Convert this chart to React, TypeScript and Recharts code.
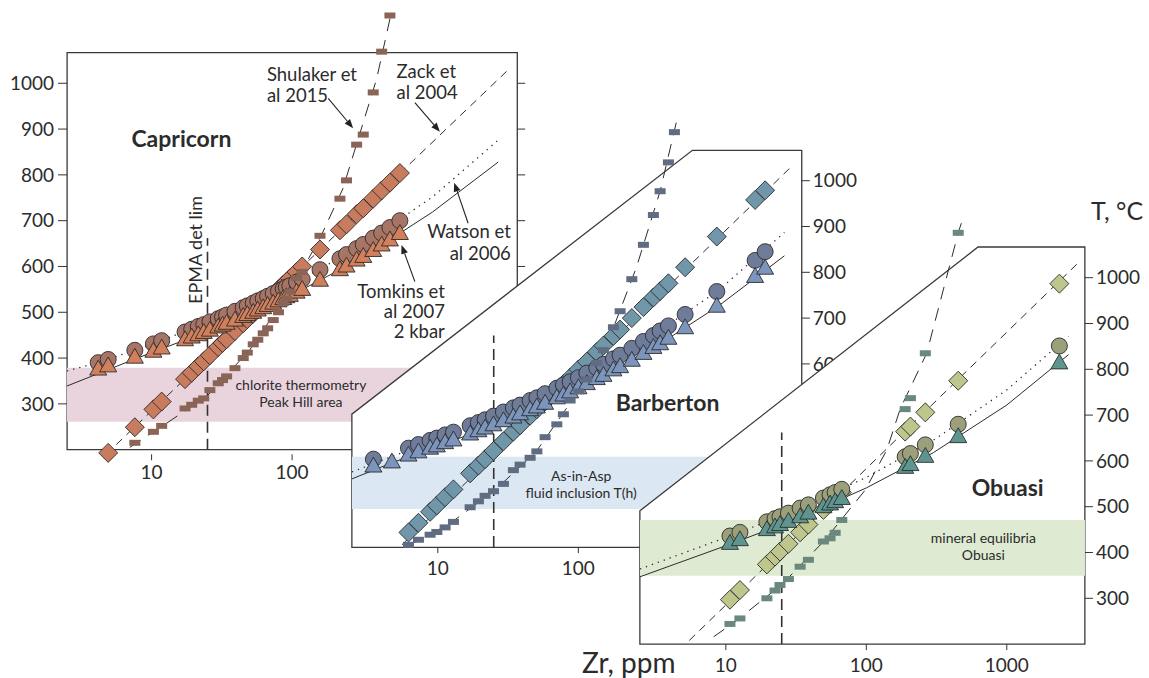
import React from 'react'
import {
  ComposedChart,
  Scatter,
  XAxis,
  YAxis,
  ReferenceArea,
  ReferenceLine,
  ReferenceDot,
} from 'recharts'

// Capricorn: Zr (ppm) of each analysis and its temperature (°C) by each thermometer
const capZr = [4.17, 4.91, 7.6, 10.3, 11.8, 17.3, 19.3, 21.5, 23.5, 26, 29.8, 32, 34.2, 39.2, 44.9, 48, 52.9, 57, 62.3, 67, 73.4, 80, 86.5, 91, 96.4, 107.6, 118, 158, 219, 244, 288, 321, 378, 434, 497, 585]
const capZack = [null, 193, 249, 288, 305, 354, 368, 382, 393, 406, 424, 433, 441, 459, 476, 485, 497, 507, 518, 527, 539, 550, 560, 566, 574, 588, 600, 637, 679, 692, 714, 727, 748, 766, 783, 804]
const capWatson = [390, 397, 417, 431, 438, 457, 463, 469, 473, 479, 486, 490, 494, 502, 510, 514, 520, 525, 530, 535, 541, 546, 551, 555, 558, 566, 572, 593, 617, 626, 639, 648, 662, 673, 685, 700]
const capTomkins = [374, 381, 400, 413, 420, 438, 444, 449, 454, 459, 466, 470, 474, 481, 489, 493, 498, 503, 508, 513, 518, 523, 528, 532, 535, 542, 548, 568, 591, 599, 612, 620, 633, 645, 656, 670]
const capShulaker = [null, null, 215, 239, 252, 290, 298, 307, 312, 330, 345, 352, 360, 378, 400, 412, 430, 440, 454, 465, 483, 500, 520, 530, 545, 575, 588, 667, 748, 788, 866, 888, 980, 1069, 1148, null]

// Barberton
const barZr = [3.48, 4.71, 6.18, 7.28, 8.81, 9.84, 11.27, 12.92, 16.98, 19.45, 21.7, 24.9, 29.3, 34.5, 38.5, 45.4, 50.7, 58, 70.3, 78.3, 87.4, 100.2, 115, 135.4, 150.9, 177.8, 198.4, 240.3, 290.6, 342.3, 382.2, 437.8, 483, 575.6, 967.8, 1813, 2136]
const barZack = [null, null, 232, 253, 277, 291, 309, 326, 361, 378, 392, 410, 431, 452, 466, 487, 501, 518, 542, 556, 570, 588, 605, 626, 640, 661, 675, 700, 724, 745, 759, 776, null, 811, 878, 958, 979]
const barWatson = [392, null, 416, 424, 433, 438, 445, 451, 465, 472, 478, 486, 495, 504, 510, 520, 526, 535, 547, 554, 561, 570, 580, 591, 599, 611, 619, 634, 649, 662, 672, 683, null, 708, 758, 826, 845]
const barTomkins = [375, 384, 399, 406, 414, 419, 426, 432, 445, 452, 458, 465, 474, 482, 489, 498, 504, 512, 524, 530, 537, 546, 555, 566, 573, 585, 592, 606, 621, 634, 642, 654, null, 677, 724, 789, 807]
const barShulaker = [null, null, 205, 216, 227, 233, 243, 255, 287, 300, 312, 322, 338, 368, 380, 395, 409, 440, 468, 490, 520, 540, 566, 602, 630, 680, 715, 785, 860, 925, 977, 1040, 1106, null, null, null, null]

// Obuasi
const obuZr = [10.7, 12.6, 19.6, 22.4, 24.3, 27.9, 33.8, 38.7, 49.5, 55.2, 60, 66.9, 189, 206, 263, 451, 2366]
const obuZack = [297, 318, 374, 391, 402, 419, 444, 461, 493, 507, 517, 531, 664, 675, 706, 775, 987]
const obuWatson = [436, 444, 467, 474, 478, 486, 497, 504, 519, 526, 531, 538, 609, 616, 635, 680, 851]
const obuTomkins = [418, 426, 448, 454, 459, 466, 476, 484, 498, 504, 509, 516, 584, 590, 608, 651, 812]
const obuShulaker = [244, 256, 300, 317, 329, 342, 369, 384, 424, 431, 443, 471, 713, 737, 835, 1098, null]

// calibration curves (Zr, T) as drawn in each panel
const capZackLineZr = [4.75, 3550]
const capZackLineT = [190, 1033]
const capWatsonLineZr = [2.5, 4.17, 10, 30, 100, 300, 1000, 3013]
const capWatsonLineT = [372, 390, 430, 487, 561, 642, 752, 879]
const capTomkinsLineZr = [2.5, 6.8, 10, 30, 100, 300, 1000, 2931]
const capTomkinsLineT = [339, 392, 412, 467, 538, 615, 719, 828]
const capShulakerLineZr = [7, 12, 25, 50, 100, 160, 230, 300, 400, 505]
const capShulakerLineT = [205, 252, 318, 418, 553, 665, 770, 885, 1010, 1150]

const barZackLineZr = [5.55, 3396]
const barZackLineT = [205, 1035]
const barWatsonLineZr = [2.45, 10, 30, 100, 300, 1000, 2931]
const barWatsonLineT = [364, 436, 494, 569, 651, 761, 887]
const barTomkinsLineZr = [2.45, 4.7, 10, 30, 100, 300, 1000, 2931]
const barTomkinsLineT = [349, 384, 420, 475, 546, 623, 727, 836]
const barShulakerLineZr = [6.3, 12, 25, 50, 100, 183, 260, 382, 505]
const barShulakerLineT = [205, 250, 322, 408, 540, 689, 812, 977, 1135]

const obuZackLineZr = [5.5, 3236]
const obuZackLineT = [208, 1033]
const obuWatsonLineZr = [2.45, 10.7, 30, 100, 300, 1000, 2750]
const obuWatsonLineT = [364, 436, 490, 564, 645, 755, 872]
const obuTomkinsLineZr = [2.45, 10.7, 30, 100, 300, 1000, 2750]
const obuTomkinsLineT = [347, 418, 470, 541, 618, 722, 832]
const obuShulakerLineZr = [8.2, 12, 25, 50, 98, 140, 174, 269, 451, 491]
const obuShulakerLineT = [216, 252, 330, 425, 536, 624, 713, 835, 1098, 1133]

// reference temperature ranges (°C)
const capBand = [261, 379]
const barBand = [283, 397]
const obuBand = [349, 471]

const tTicks = [300, 400, 500, 600, 700, 800, 900, 1000]
const zrTicks = [10, 100, 1000]
const epmaZr = 25
const epmaT = [200, 662]

// ---- layout ----
const DEC = 140.5 // px per decade of Zr
const K = 0.458 // px per degree
const X_H = 40
const INK = '#2b2b2b'
const FONT = 'Lato, "Open Sans", sans-serif'
const FRAME_T = [200, 1067]

type Geo = { x10: number; y1000: number; xMin: number; xMax: number; tLo: number; tHi: number; leftW: number; rightW: number }

const capGeo: Geo = { x10: 151.7, y1000: 83.3, xMin: 2.5, xMax: 4000, tLo: 190, tHi: 1160, leftW: 67, rightW: 14 }
const barGeo: Geo = { x10: 437.7, y1000: 181, xMin: 2.45, xMax: 3900, tLo: 200, tHi: 1150, leftW: 0, rightW: 60 }
const obuGeo: Geo = { x10: 725.7, y1000: 277.7, xMin: 2.45, xMax: 3600, tLo: 200, tHi: 1150, leftW: 0, rightW: 60 }

const px = (g: Geo, zr: number) => g.x10 + DEC * (Math.log10(zr) - 1)
const py = (g: Geo, t: number) => g.y1000 + (1000 - t) * K

const pairs = (zr: number[], t: (number | null)[]) =>
  zr.map((z, i) => ({ zr: z, t: t[i] })).filter((d) => d.t != null)

const noShape = () => <g />
const nothing = () => <g />

const diamond = (fill: string, r: number) => (q: any) => (
  <polygon
    points={`${q.cx},${q.cy - r} ${q.cx + r},${q.cy} ${q.cx},${q.cy + r} ${q.cx - r},${q.cy}`}
    fill={fill}
    stroke={INK}
    strokeWidth={0.9}
  />
)
const circle = (fill: string, r: number) => (q: any) => (
  <circle cx={q.cx} cy={q.cy} r={r} fill={fill} stroke={INK} strokeWidth={0.9} />
)
const triangle = (fill: string, s: number) => (q: any) => (
  <polygon
    points={`${q.cx},${q.cy - s * 1.15} ${q.cx + s},${q.cy + s * 0.6} ${q.cx - s},${q.cy + s * 0.6}`}
    fill={fill}
    stroke={INK}
    strokeWidth={0.9}
  />
)
const brick = (fill: string) => (q: any) => (
  <rect x={q.cx - 5.5} y={q.cy - 3} width={11} height={6} fill={fill} />
)

const arrow = (q: any) => {
  const { x1, y1, x2, y2 } = q
  const a = Math.atan2(y2 - y1, x2 - x1)
  const L = 9
  const W = 3.5
  const bx = x2 - L * Math.cos(a)
  const by = y2 - L * Math.sin(a)
  const s = Math.sin(a)
  const c = Math.cos(a)
  return (
    <g>
      <line x1={x1} y1={y1} x2={bx} y2={by} stroke="#222" strokeWidth={1.1} />
      <polygon points={`${x2},${y2} ${bx + W * s},${by - W * c} ${bx - W * s},${by + W * c}`} fill="#222" />
    </g>
  )
}

const textBlock = (lines: string[], size: number, anchor: string, lh: number, weight = 400) => (q: any) => (
  <text x={q.cx} y={q.cy} textAnchor={anchor} fontSize={size} fontWeight={weight} fill={INK} fontFamily={FONT}>
    {lines.map((s, i) => (
      <tspan key={i} x={q.cx} dy={i === 0 ? 0 : lh}>
        {s}
      </tspan>
    ))}
  </text>
)

const TICK = { fontSize: 19, fill: INK, fontFamily: FONT }

function framePoints(g: Geo, cut?: number[]) {
  const l = px(g, g.xMin)
  const r = px(g, g.xMax)
  const top = py(g, FRAME_T[1])
  const bot = py(g, FRAME_T[0])
  const pts = cut
    ? [[l, bot], [l, py(g, cut[1])], [px(g, cut[0]), top], [r, top], [r, bot]]
    : [[l, bot], [l, top], [r, top], [r, bot]]
  return pts.map((p) => p.join(',')).join(' ')
}

function Frame({ geo, cut }: { geo: Geo; cut?: number[] }) {
  return (
    <svg width={1149} height={678} style={{ position: 'absolute', left: 0, top: 0 }}>
      <polygon points={framePoints(geo, cut)} fill="#fff" stroke="#3a3a3a" strokeWidth={1.3} />
    </svg>
  )
}

interface PanelProps {
  geo: Geo
  zr: number[]
  zack: (number | null)[]
  watson: (number | null)[]
  tomkins: (number | null)[]
  shulaker: (number | null)[]
  lines: number[][][]
  colors: { diamond: string; circle: string; triangle: string; square: string; band: string }
  band: number[]
  bandText: string[]
  bandAt: number[]
  title: string
  titleAt: number[]
  tickMargin: number
  leftLabels: boolean
  rightLabels: boolean
  extras?: React.ReactNode[]
}

function Panel(p: PanelProps) {
  const g = p.geo
  const plotLeft = px(g, g.xMin)
  const plotW = DEC * Math.log10(g.xMax / g.xMin)
  const plotTop = py(g, g.tHi)
  const plotH = (g.tHi - g.tLo) * K
  const [zackL, watsonL, tomkinsL, shulakerL] = p.lines
  return (
    <div style={{ position: 'absolute', left: plotLeft - g.leftW, top: plotTop }}>
      <ComposedChart width={g.leftW + plotW + g.rightW} height={plotH + X_H} margin={{ top: 0, right: 0, bottom: 0, left: 0 }}>
        <XAxis
          dataKey="zr"
          type="number"
          scale="log"
          domain={[g.xMin, g.xMax]}
          ticks={zrTicks}
          height={X_H}
          axisLine={false}
          tickLine={{ stroke: '#333' }}
          tickSize={6}
          tickMargin={p.tickMargin}
          tick={TICK}
        />
        {p.leftLabels && (
          <YAxis
            yAxisId="l"
            dataKey="t"
            type="number"
            domain={[g.tLo, g.tHi]}
            ticks={tTicks}
            width={g.leftW}
            axisLine={false}
            tickLine={{ stroke: '#333' }}
            tickSize={9}
            tickMargin={4}
            tick={TICK}
          />
        )}
        {p.leftLabels && (
          <Scatter yAxisId="l" data={pairs(tomkinsL[0], tomkinsL[1])} shape={noShape} isAnimationActive={false} />
        )}
        <YAxis
          yAxisId="r"
          orientation="right"
          dataKey="t"
          type="number"
          domain={[g.tLo, g.tHi]}
          ticks={tTicks}
          width={g.rightW}
          axisLine={false}
          tickLine={{ stroke: '#333' }}
          tickSize={8}
          tickMargin={3}
          tick={p.rightLabels ? TICK : nothing}
        />
        <ReferenceArea yAxisId="r" x1={g.xMin} x2={g.xMax} y1={p.band[0]} y2={p.band[1]} fill={p.colors.band} fillOpacity={1} stroke="none" />
        <ReferenceDot yAxisId="r" x={p.bandAt[0]} y={p.bandAt[1]} r={0} shape={textBlock(p.bandText, 14, 'middle', 16.5)} />
        <ReferenceLine
          yAxisId="r"
          segment={[{ x: epmaZr, y: epmaT[0] }, { x: epmaZr, y: epmaT[1] }]}
          stroke="#333"
          strokeWidth={1.6}
          strokeDasharray="11 6"
        />
        <Scatter yAxisId="r" data={pairs(zackL[0], zackL[1])} shape={noShape} line={{ stroke: INK, strokeWidth: 1, strokeDasharray: '8 6' }} isAnimationActive={false} />
        <Scatter yAxisId="r" data={pairs(watsonL[0], watsonL[1])} shape={noShape} line={{ stroke: INK, strokeWidth: 1.3, strokeDasharray: '1.3 5' }} isAnimationActive={false} />
        <Scatter yAxisId="r" data={pairs(tomkinsL[0], tomkinsL[1])} shape={noShape} line={{ stroke: INK, strokeWidth: 1 }} isAnimationActive={false} />
        <Scatter yAxisId="r" data={pairs(shulakerL[0], shulakerL[1])} shape={noShape} line={{ stroke: INK, strokeWidth: 1, strokeDasharray: '13 9' }} isAnimationActive={false} />
        <Scatter yAxisId="r" data={pairs(p.zr, p.zack)} shape={diamond(p.colors.diamond, 9.5)} isAnimationActive={false} />
        <Scatter yAxisId="r" data={pairs(p.zr, p.watson)} shape={circle(p.colors.circle, 8)} isAnimationActive={false} />
        <Scatter yAxisId="r" data={pairs(p.zr, p.tomkins)} shape={triangle(p.colors.triangle, 8.5)} isAnimationActive={false} />
        <Scatter yAxisId="r" data={pairs(p.zr, p.shulaker)} shape={brick(p.colors.square)} isAnimationActive={false} />
        <ReferenceDot yAxisId="r" x={p.titleAt[0]} y={p.titleAt[1]} r={0} shape={textBlock([p.title], 23, 'middle', 0, 700)} />
        {p.extras}
      </ComposedChart>
    </div>
  )
}

// Capricorn annotations
const capNotes = [
  { at: [66.2, 1005], lines: ['Shulaker et', 'al 2015'], anchor: 'start', lh: 21 },
  { at: [554, 1011], lines: ['Zack et', 'al 2004'], anchor: 'start', lh: 20.5 },
  { at: [3606, 661.6], lines: ['Watson et', 'al 2006'], anchor: 'end', lh: 21.5 },
  { at: [1223, 532], lines: ['Tomkins et', 'al 2007', '2 kbar'], anchor: 'end', lh: 20 },
]
const capArrows = [
  [[180.7, 967], [272, 902]],
  [[748, 957.6], [1127, 894.3]],
  [[1791, 694.3], [1425, 783]],
  [[748, 566.8], [601, 647]],
]

const capExtras = [
  ...capNotes.map((n, i) => (
    <ReferenceDot key={`n${i}`} yAxisId="r" x={n.at[0]} y={n.at[1]} r={0} shape={textBlock(n.lines, 18.5, n.anchor, n.lh)} />
  )),
  ...capArrows.map((a, i) => (
    <ReferenceLine
      key={`a${i}`}
      yAxisId="r"
      segment={[{ x: a[0][0], y: a[0][1] }, { x: a[1][0], y: a[1][1] }]}
      shape={arrow}
    />
  )),
  <ReferenceDot
    key="epma"
    yAxisId="r"
    x={20.3}
    y={636}
    r={0}
    shape={(q: any) => (
      <text
        x={q.cx}
        y={q.cy}
        transform={`rotate(-90 ${q.cx} ${q.cy})`}
        textAnchor="middle"
        dominantBaseline="central"
        fontSize={18}
        fill={INK}
        fontFamily={FONT}
      >
        EPMA det lim
      </text>
    )}
  />,
]

export default function App() {
  return (
    <div style={{ position: 'relative', width: 1149, height: 678, background: '#fff', overflow: 'hidden', fontFamily: FONT }}>
      <style>{'body{margin:0}'}</style>
      <Frame geo={capGeo} />
      <Panel
        geo={capGeo}
        zr={capZr}
        zack={capZack}
        watson={capWatson}
        tomkins={capTomkins}
        shulaker={capShulaker}
        lines={[
          [capZackLineZr, capZackLineT],
          [capWatsonLineZr, capWatsonLineT],
          [capTomkinsLineZr, capTomkinsLineT],
          [capShulakerLineZr, capShulakerLineT],
        ]}
        colors={{ diamond: '#c97b5d', circle: '#a77565', triangle: '#d27f5c', square: '#8a6457', band: '#e9d4dd' }}
        band={capBand}
        bandText={['chlorite thermometry', 'Peak Hill area']}
        bandAt={[115.6, 330]}
        title="Capricorn"
        titleAt={[16.3, 861.6]}
        tickMargin={5}
        leftLabels
        rightLabels={false}
        extras={capExtras}
      />
      <Frame geo={barGeo} cut={[650, 491]} />
      <Panel
        geo={barGeo}
        zr={barZr}
        zack={barZack}
        watson={barWatson}
        tomkins={barTomkins}
        shulaker={barShulaker}
        lines={[
          [barZackLineZr, barZackLineT],
          [barWatsonLineZr, barWatsonLineT],
          [barTomkinsLineZr, barTomkinsLineT],
          [barShulakerLineZr, barShulakerLineT],
        ]}
        colors={{ diamond: '#6f97a9', circle: '#6e7c9a', triangle: '#7c95bc', square: '#5f6c82', band: '#dbe7f2' }}
        band={barBand}
        bandText={['As-in-Asp', 'fluid inclusion T(h)']}
        bandAt={[104.8, 343.5]}
        title="Barberton"
        titleAt={[432, 496.3]}
        tickMargin={8}
        leftLabels={false}
        rightLabels
      />
      <Frame geo={obuGeo} cut={[625, 491]} />
      <Panel
        geo={obuGeo}
        zr={obuZr}
        zack={obuZack}
        watson={obuWatson}
        tomkins={obuTomkins}
        shulaker={obuShulaker}
        lines={[
          [obuZackLineZr, obuZackLineT],
          [obuWatsonLineZr, obuWatsonLineT],
          [obuTomkinsLineZr, obuTomkinsLineT],
          [obuShulakerLineZr, obuShulakerLineT],
        ]}
        colors={{ diamond: '#bec68b', circle: '#9ba07b', triangle: '#5e968f', square: '#6b887e', band: '#deebd2' }}
        band={obuBand}
        bandText={['mineral equilibria', 'Obuasi']}
        bandAt={[681, 420]}
        title="Obuasi"
        titleAt={[1014, 523.4]}
        tickMargin={8}
        leftLabels={false}
        rightLabels
      />
      <svg width={1149} height={678} style={{ position: 'absolute', left: 0, top: 0, pointerEvents: 'none' }}>
        <text x={1091} y={219.5} fontSize={25} fill={INK} fontFamily={FONT}>
          T, °C
        </text>
        <text x={582} y={672.5} fontSize={28} fill={INK} fontFamily={FONT}>
          Zr, ppm
        </text>
      </svg>
    </div>
  )
}
